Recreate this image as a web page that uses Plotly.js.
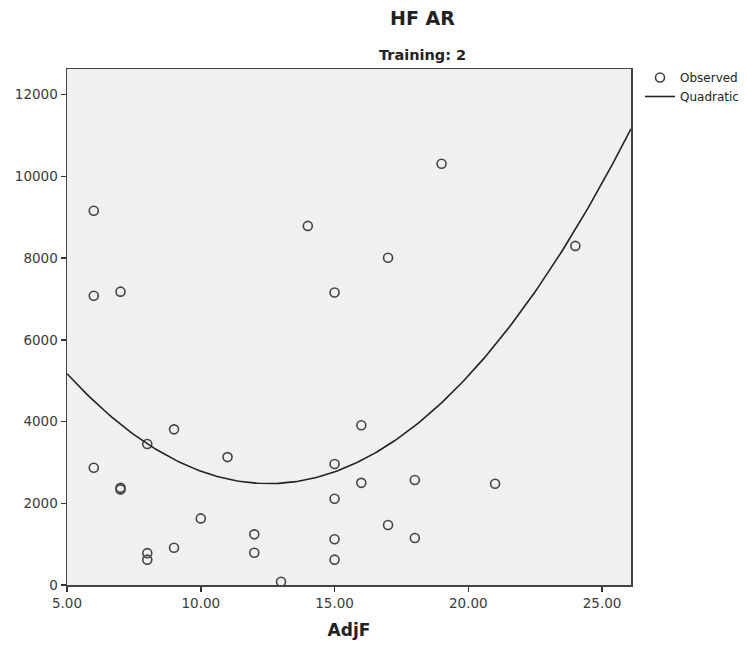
<!DOCTYPE html>
<html>
<head>
<meta charset="utf-8">
<script src="https://cdn.plot.ly/plotly-3.0.1.min.js"></script>
<style>
html,body{margin:0;padding:0;background:#fff;}
#chart{width:746px;height:648px;}
</style>
</head>
<body>
<div id="chart"></div>
<script>
// Observed data (AdjF vs HF AR, Training: 2)
const adjF = [6, 6, 6, 7, 7, 7, 8, 8, 8, 9, 9, 10, 11, 12, 12, 13, 14, 15, 15, 15, 15, 15, 16, 16, 17, 17, 18, 18, 19, 21, 24];
const hfAR = [9160, 7080, 2870, 7180, 2380, 2340, 3450, 780, 620, 3810, 910, 1630, 3130, 1240, 790, 80, 8790, 7160, 2960, 2110, 1120, 620, 3910, 2500, 8010, 1470, 2570, 1150, 10310, 2480, 8300];

// Least-squares quadratic fit y = b0 + b1 x + b2 x^2
function quadFit(xs, ys) {
  let S = [0,0,0,0,0], T = [0,0,0];
  for (let i = 0; i < xs.length; i++) {
    const x = xs[i], y = ys[i];
    let p = 1;
    for (let k = 0; k < 5; k++) { S[k] += p; if (k < 3) T[k] += p * y; p *= x; }
  }
  const M = [[S[0],S[1],S[2],T[0]],[S[1],S[2],S[3],T[1]],[S[2],S[3],S[4],T[2]]];
  for (let c = 0; c < 3; c++) {
    for (let r = c + 1; r < 3; r++) {
      const f = M[r][c] / M[c][c];
      for (let k = c; k < 4; k++) M[r][k] -= f * M[c][k];
    }
  }
  const b = [0,0,0];
  for (let r = 2; r >= 0; r--) {
    let s = M[r][3];
    for (let k = r + 1; k < 3; k++) s -= M[r][k] * b[k];
    b[r] = s / M[r][r];
  }
  return b;
}
const coef = quadFit(adjF, hfAR);
const xMin = 5, xMax = 26.08;
const curveX = [], curveY = [];
for (let i = 0; i <= 200; i++) {
  const x = xMin + (xMax - xMin) * i / 200;
  curveX.push(x);
  curveY.push(coef[0] + coef[1] * x + coef[2] * x * x);
}

const xTicks = [5, 10, 15, 20, 25];
const yTicks = [0, 2000, 4000, 6000, 8000, 10000, 12000];

const font = "DejaVu Sans, Verdana, sans-serif";
const ML = 67, MR = 115, MT = 69, MB = 63, W = 746, H = 648;
const PW = W - ML - MR, PH = H - MT - MB;

const traces = [
  {
    x: adjF, y: hfAR, type: 'scatter', mode: 'markers', name: 'Observed',
    cliponaxis: false,
    marker: {symbol: 'circle-open', size: 9, color: '#444', line: {width: 1.6, color: '#444'}}
  },
  {
    x: curveX, y: curveY, type: 'scatter', mode: 'lines', name: 'Quadratic',
    line: {color: '#222', width: 1.6}
  }
];

const layout = {
  width: W, height: H,
  margin: {l: ML, r: MR, t: MT, b: MB, autoexpand: false},
  paper_bgcolor: '#ffffff',
  plot_bgcolor: '#f0f0f0',
  font: {family: font, color: '#222', size: 13},
  showlegend: true,
  legend: {
    x: (640 - ML) / PW, y: 1 + 6 / PH, xanchor: 'left', yanchor: 'top',
    font: {family: font, size: 12, color: '#222'},
    bgcolor: 'rgba(0,0,0,0)', borderwidth: 0, tracegroupgap: 0,
    itemwidth: 30
  },
  xaxis: {
    range: [xMin, xMax],
    tickvals: xTicks, tickformat: '.2f',
    ticks: 'outside', ticklen: 5, tickwidth: 1.5, tickcolor: '#333',
    showline: true, mirror: true, linecolor: '#444', linewidth: 1.5,
    showgrid: false, zeroline: false,
    tickfont: {family: font, size: 13.5, color: '#3a3a3a'},
    title: {text: '<b>AdjF</b>', font: {family: font, size: 17, color: '#222'}, standoff: 14}
  },
  yaxis: {
    range: [0, 12630],
    tickvals: yTicks, tickformat: 'd',
    ticks: 'outside', ticklen: 5, tickwidth: 1.5, tickcolor: '#333',
    showline: true, mirror: true, linecolor: '#444', linewidth: 1.5,
    showgrid: false, zeroline: false,
    tickfont: {family: font, size: 13.5, color: '#3a3a3a'}
  },
  annotations: [
    {text: '<b>HF AR</b>', xref: 'paper', yref: 'paper', x: (422 - ML) / PW, y: 1.0 + 51 / PH, xanchor: 'center', yanchor: 'middle',
     showarrow: false, font: {family: font, size: 19, color: '#222'}},
    {text: '<b>Training: 2</b>', xref: 'paper', yref: 'paper', x: (422 - ML) / PW, y: 1.0 + 14 / PH, xanchor: 'center', yanchor: 'middle',
     showarrow: false, font: {family: font, size: 14.5, color: '#222'}}
  ]
};

Plotly.newPlot('chart', traces, layout, {displayModeBar: false, staticPlot: true});
</script>
</body>
</html>
